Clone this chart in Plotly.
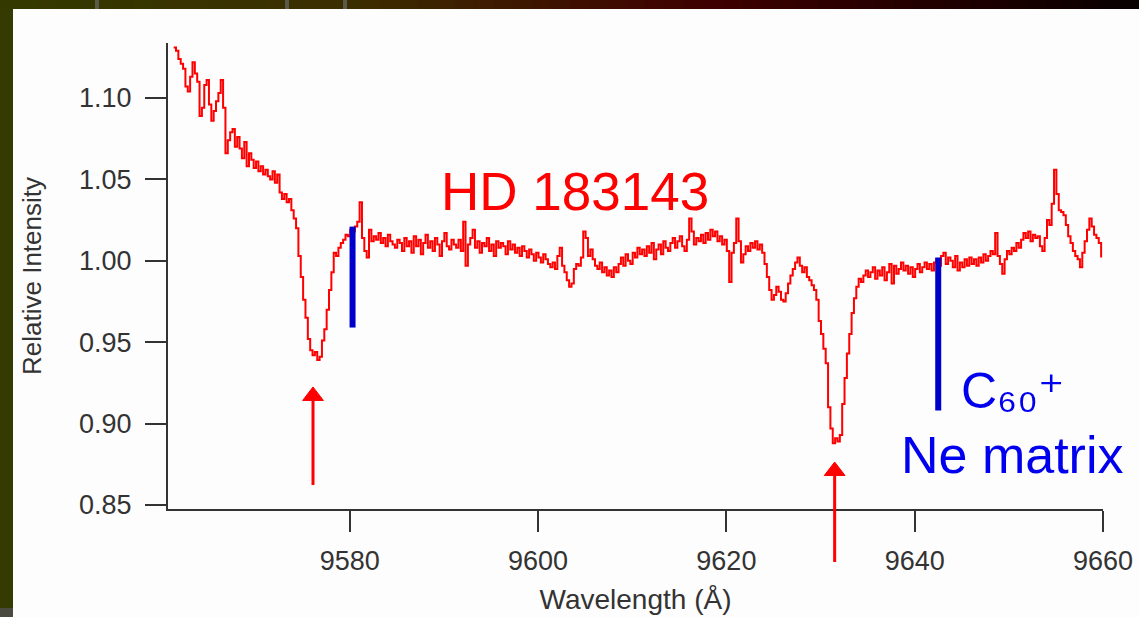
import plotly.graph_objects as go

# ---------------------------------------------------------------------------
# Spectrum of HD 183143 around the 9577 / 9632 A diffuse bands
# ---------------------------------------------------------------------------
WL_START = 9561.3   # first sample (Angstrom)
WL_STEP = 0.25      # sampling interval (Angstrom)

flux = [
    # 9561.3 - 9566.05
    1.131, 1.129, 1.124, 1.121, 1.118, 1.107, 1.104, 1.113, 1.122, 1.115,
    1.110, 1.089, 1.094, 1.108, 1.111, 1.096, 1.086, 1.092, 1.098, 1.103,
    # 9566.3 - 9571.05
    1.111, 1.094, 1.066, 1.074, 1.079, 1.081, 1.070, 1.076, 1.069, 1.063,
    1.073, 1.058, 1.066, 1.062, 1.057, 1.061, 1.055, 1.058, 1.053, 1.056,
    # 9571.3 - 9576.05
    1.052, 1.050, 1.055, 1.048, 1.053, 1.042, 1.038, 1.041, 1.036, 1.038,
    1.031, 1.026, 1.020, 1.003, 0.990, 0.976, 0.965, 0.952, 0.945, 0.942,
    # 9576.3 - 9581.05
    0.944, 0.939, 0.941, 0.951, 0.958, 0.970, 0.982, 0.993, 1.005, 1.003,
    1.008, 1.011, 1.013, 1.016, 1.015, 1.019, 1.018, 1.021, 1.024, 1.036,
    # 9581.3 - 9586.05
    1.014, 1.006, 1.002, 1.019, 1.012, 1.015, 1.013, 1.017, 1.011, 1.014,
    1.009, 1.016, 1.012, 1.010, 1.008, 1.013, 1.011, 1.006, 1.014, 1.009,
    # 9586.3 - 9591.05
    1.012, 1.005, 1.015, 1.009, 1.013, 1.004, 1.011, 1.016, 1.008, 1.012,
    1.006, 1.014, 1.010, 1.003, 1.012, 1.017, 1.009, 1.007, 1.013, 1.010,
    # 9591.3 - 9596.05
    1.008, 1.013, 1.006, 1.024, 0.997, 1.010, 1.014, 1.019, 1.008, 1.012,
    1.005, 1.011, 1.009, 1.014, 1.006, 1.010, 1.003, 1.012, 1.008, 1.011,
    # 9596.3 - 9601.05
    1.009, 1.004, 1.012, 1.007, 1.010, 1.005, 1.008, 1.003, 1.009, 1.006,
    1.002, 1.007, 1.004, 1.000, 1.005, 1.002, 0.999, 1.004, 1.001, 0.998,
    # 9601.3 - 9606.05
    0.996, 0.999, 0.995, 1.003, 1.008, 0.997, 0.993, 0.988, 0.984, 0.986,
    0.995, 0.998, 0.997, 1.002, 1.018, 1.014, 1.003, 1.007, 1.001, 0.997,
    # 9606.3 - 9611.05
    0.995, 0.999, 0.993, 0.996, 0.991, 0.994, 0.990, 0.996, 0.993, 0.998,
    1.002, 0.997, 1.004, 1.000, 0.998, 1.005, 1.002, 1.008, 1.004, 1.007,
    # 9611.3 - 9616.05
    1.003, 1.009, 1.005, 1.011, 1.001, 1.007, 1.010, 1.004, 1.012, 1.008,
    1.006, 1.011, 1.014, 1.008, 1.012, 1.015, 1.009, 1.006, 1.013, 1.026,
    # 9616.3 - 9621.05
    1.018, 1.010, 1.014, 1.012, 1.016, 1.011, 1.017, 1.013, 1.019, 1.015,
    1.018, 1.012, 1.015, 1.010, 1.013, 1.006, 0.987, 1.005, 1.011, 1.026,
    # 9621.3 - 9626.05
    1.012, 0.999, 1.004, 1.009, 1.006, 1.011, 1.008, 1.012, 1.007, 1.010,
    1.005, 0.998, 0.990, 0.982, 0.976, 0.979, 0.984, 0.981, 0.976, 0.975,
    # 9626.3 - 9631.05
    0.980, 0.986, 0.991, 0.995, 0.999, 1.002, 0.997, 0.993, 0.996, 0.990,
    0.988, 0.985, 0.982, 0.976, 0.963, 0.955, 0.946, 0.937, 0.910, 0.897,
    # 9631.3 - 9636.05
    0.888, 0.891, 0.889, 0.893, 0.912, 0.928, 0.943, 0.955, 0.968, 0.977,
    0.984, 0.989, 0.987, 0.991, 0.994, 0.990, 0.993, 0.996, 0.989, 0.994,
    # 9636.3 - 9641.05
    0.991, 0.996, 0.988, 0.993, 0.998, 0.986, 0.997, 0.992, 0.995, 0.999,
    0.994, 0.997, 0.992, 0.996, 0.990, 0.995, 0.998, 0.993, 0.996, 0.999,
    # 9641.3 - 9646.05
    0.995, 0.998, 0.994, 0.999, 1.001, 0.997, 1.003, 1.005, 0.998, 1.002,
    1.000, 0.996, 1.003, 0.994, 0.999, 0.996, 1.001, 0.997, 1.002, 0.998,
    # 9646.3 - 9651.05
    1.001, 0.997, 1.002, 0.999, 1.004, 1.000, 1.003, 1.006, 1.004, 1.017,
    1.003, 0.998, 0.992, 1.001, 1.006, 1.004, 1.008, 1.006, 1.011, 1.008,
    # 9651.3 - 9656.05
    1.013, 1.017, 1.014, 1.018, 1.012, 1.016, 1.014, 1.015, 1.009, 1.006,
    1.014, 1.025, 1.022, 1.035, 1.056, 1.041, 1.031, 1.030, 1.028, 1.022,
    # 9656.3 - 9659.8
    1.015, 1.011, 1.006, 1.003, 1.001, 0.996, 1.005, 1.012, 1.019, 1.026,
    1.021, 1.016, 1.014, 1.011, 1.002,
]
wavelength = [WL_START + WL_STEP * i for i in range(len(flux))]

# C60+ absorption positions measured in a neon matrix (vertical bars)
c60_wl = [9580.3, 9642.5]
c60_top = [1.021, 1.002]
c60_bottom = [0.959, 0.908]

# Diffuse interstellar band markers (red arrows): position, tip and tail
dib_wl = [9576.1, 9631.5]
dib_tip = [0.9225, 0.8764]
dib_tail = [0.8623, 0.8150]

x_ticks = [9580, 9600, 9620, 9640, 9660]
y_ticks = [0.85, 0.90, 0.95, 1.00, 1.05, 1.10]

X_RANGE = [9560.7, 9660.0]
Y_RANGE = [0.84754, 1.13378]

W, H = 1139, 617
ML, MR, MT, MB = 168, 36, 43, 42
PW, PH = W - ML - MR, H - MT - MB
AXIS_BOTTOM = 509                      # pixel row of the wavelength axis
Y_DOMAIN = [(H - MB - AXIS_BOTTOM) / PH, 1.0]

# the arrow layer spans the full plot height (down past the wavelength
# axis) with the same intensity scale as the main axis
_span = Y_RANGE[1] - Y_RANGE[0]
_ax_h = AXIS_BOTTOM - MT
Y2_RANGE = [Y_RANGE[0] - _span * (H - MB - AXIS_BOTTOM) / _ax_h, Y_RANGE[1]]


def px(xp):
    return (xp - ML) / PW


def py(yp):
    return (H - MB - yp) / PH


FONT = "Liberation Sans, Arial, DejaVu Sans, sans-serif"
RED = "#ff0000"
BLUE = "#0000ee"

fig = go.Figure()

fig.add_trace(go.Scatter(
    x=wavelength, y=flux, mode="lines",
    line=dict(color=RED, width=2, shape="hv"),
    hoverinfo="skip",
))

for xw, yt, yb in zip(c60_wl, c60_top, c60_bottom):
    fig.add_trace(go.Scatter(
        x=[xw, xw], y=[yb, yt], mode="lines",
        line=dict(color="#0000cc", width=6),
        hoverinfo="skip",
    ))

for xw, yt, yb in zip(dib_wl, dib_tip, dib_tail):
    fig.add_trace(go.Scatter(
        x=[xw, xw], y=[yb, yt], mode="lines+markers",
        xaxis="x", yaxis="y2",
        line=dict(color=RED, width=3, backoff=8),
        marker=dict(symbol=["circle", "triangle-up"], size=[0, 18],
                    standoff=[0, 9], color=RED, opacity=1,
                    line=dict(width=1, color=RED)),
        hoverinfo="skip", cliponaxis=False,
    ))

# slide-style frame: olive border, white panel, dark gradient band on top
shapes = [
    dict(type="rect", xref="paper", yref="paper", layer="below",
         x0=px(13), x1=px(W + 4), y0=py(H + 4), y1=py(9),
         fillcolor="#fdfdfd", line=dict(width=0)),
    dict(type="rect", xref="paper", yref="paper", layer="below",
         x0=px(-2), x1=px(13), y0=py(H + 4), y1=py(608),
         fillcolor="#4a4a40", line=dict(width=0)),
]
stops = [(0, (52, 58, 0)), (350, (60, 46, 0)), (700, (64, 0, 0)), (W, (8, 0, 0))]
n_band = 60
for k in range(n_band):
    x0 = W * k / n_band
    x1 = W * (k + 1) / n_band
    xm = (x0 + x1) / 2
    for (a, ca), (b, cb) in zip(stops[:-1], stops[1:]):
        if a <= xm <= b:
            t = (xm - a) / (b - a)
            c = tuple(int(ca[j] + (cb[j] - ca[j]) * t) for j in range(3))
            break
    shapes.append(dict(type="rect", xref="paper", yref="paper", layer="below",
                       x0=px(x0), x1=px(x1 + 0.5), y0=py(9), y1=py(-2),
                       fillcolor="rgb(%d,%d,%d)" % c, line=dict(width=0)))
for gx in (95, 285, 343):
    shapes.append(dict(type="rect", xref="paper", yref="paper", layer="below",
                       x0=px(gx), x1=px(gx + 4), y0=py(9), y1=py(-2),
                       fillcolor="#5a5a4a", line=dict(width=0)))

annotations = [
    dict(x=9603.9, y=1.0423, xref="x", yref="y", text="HD 183143",
         showarrow=False, font=dict(family=FONT, size=53, color=RED),
         xanchor="center", yanchor="middle"),
    dict(x=9644.8, y=0.9203, xref="x", yref="y", text="C\u2086\u2080\u207a",
         showarrow=False, font=dict(family=FONT, size=50, color=BLUE),
         xanchor="left", yanchor="middle", borderpad=0),
    dict(x=9638.4, y=0.8807, xref="x", yref="y", text="Ne matrix",
         showarrow=False, font=dict(family=FONT, size=52, color=BLUE),
         xanchor="left", yanchor="middle", borderpad=0),
]

AXIS_COLOR = "#333333"
fig.update_layout(
    width=W, height=H,
    margin=dict(l=ML, r=MR, t=MT, b=MB, pad=0, autoexpand=False),
    paper_bgcolor="#343a00",
    plot_bgcolor="rgba(0,0,0,0)",
    showlegend=False,
    shapes=shapes,
    annotations=annotations,
    font=dict(family=FONT, color=AXIS_COLOR),
    xaxis=dict(
        range=X_RANGE, tickvals=x_ticks, ticktext=[str(v) for v in x_ticks],
        anchor="y", automargin=False,
        showgrid=False, zeroline=False, showline=True,
        linecolor=AXIS_COLOR, linewidth=2,
        ticks="outside", ticklen=21, tickwidth=2, tickcolor=AXIS_COLOR,
        tickfont=dict(family=FONT, size=27, color=AXIS_COLOR),
        ticklabelstandoff=6,
        title=dict(text="Wavelength (Å)", standoff=14,
                   font=dict(family=FONT, size=28, color=AXIS_COLOR)),
    ),
    yaxis=dict(
        domain=Y_DOMAIN,
        range=Y_RANGE, tickvals=y_ticks,
        ticktext=["%.2f" % v for v in y_ticks],
        automargin=False,
        showgrid=False, zeroline=False, showline=True,
        linecolor=AXIS_COLOR, linewidth=2,
        ticks="outside", ticklen=21, tickwidth=2, tickcolor=AXIS_COLOR,
        tickfont=dict(family=FONT, size=27, color=AXIS_COLOR),
        ticklabelstandoff=8,
        title=dict(text="Relative Intensity", standoff=30,
                   font=dict(family=FONT, size=26, color=AXIS_COLOR)),
    ),
    yaxis2=dict(
        domain=[0, 1], range=Y2_RANGE, anchor="x",
        visible=False, showgrid=False, zeroline=False,
    ),
)

fig.write_html("out.html")
